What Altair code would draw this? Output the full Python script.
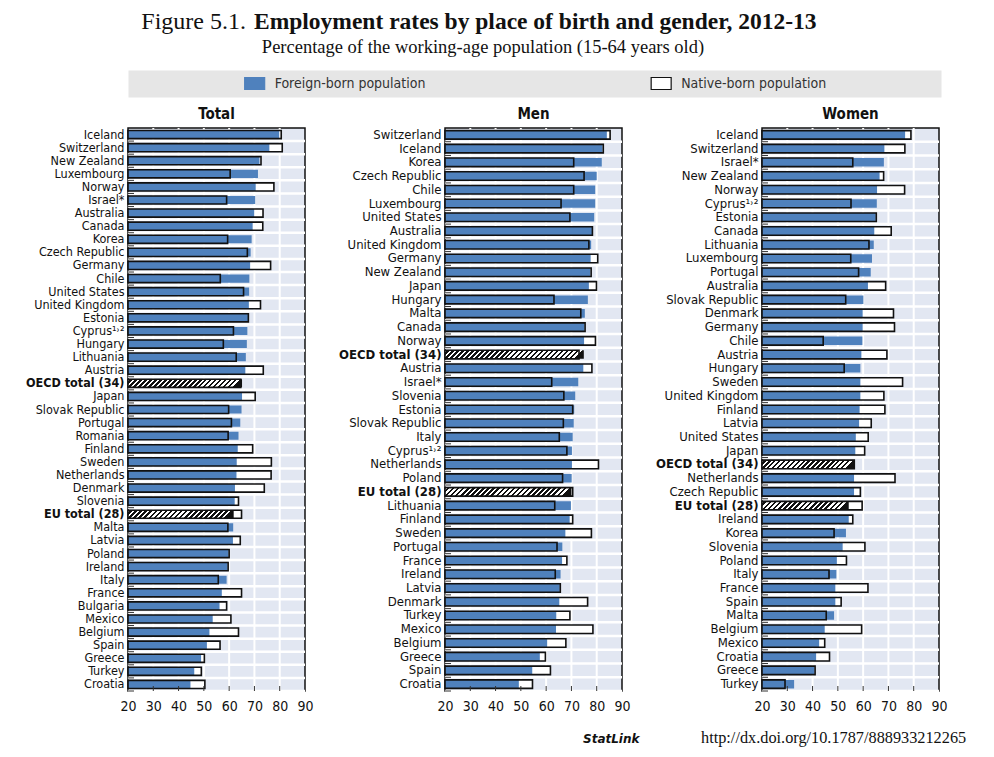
import altair as alt
import pandas as pd

# ---------------- data ----------------
countries_total = ["Iceland", "Switzerland", "New Zealand", "Luxembourg", "Norway", "Israel*", "Australia",
                   "Canada", "Korea", "Czech Republic", "Germany", "Chile", "United States", "United Kingdom",
                   "Estonia", "Cyprus¹˒²", "Hungary", "Lithuania", "Austria", "OECD total (34)", "Japan",
                   "Slovak Republic", "Portugal", "Romania", "Finland", "Sweden", "Netherlands", "Denmark",
                   "Slovenia", "EU total (28)", "Malta", "Latvia", "Poland", "Ireland", "Italy", "France",
                   "Bulgaria", "Mexico", "Belgium", "Spain", "Greece", "Turkey", "Croatia"]
foreign_total = [79.8, 75.9, 72.0, 71.4, 70.5, 70.3, 69.9, 69.3, 68.9, 68.5, 68.3, 68.0, 67.9, 67.8, 67.5,
                 67.2, 67.0, 66.6, 66.4, 65.1, 65.1, 64.9, 64.4, 63.7, 63.4, 63.0, 62.9, 62.3, 62.2, 61.8,
                 61.6, 61.5, 59.8, 59.4, 59.0, 57.1, 56.2, 53.5, 52.2, 51.2, 48.9, 46.2, 44.7]
native_total = [80.6, 81.0, 72.6, 60.4, 77.7, 59.0, 73.4, 73.3, 59.4, 67.2, 76.4, 56.5, 65.7, 72.4, 67.6,
                61.7, 57.7, 62.8, 73.5, 64.6, 70.3, 59.8, 60.9, 59.6, 69.3, 76.7, 76.6, 73.9, 63.7, 64.9,
                59.5, 64.4, 60.0, 59.6, 55.7, 64.9, 59.0, 60.7, 63.7, 56.4, 50.2, 49.0, 50.4]

countries_men = ["Switzerland", "Iceland", "Korea", "Czech Republic", "Chile", "Luxembourg", "United States",
                 "Australia", "United Kingdom", "Germany", "New Zealand", "Japan", "Hungary", "Malta", "Canada",
                 "Norway", "OECD total (34)", "Austria", "Israel*", "Slovenia", "Estonia", "Slovak Republic",
                 "Italy", "Cyprus¹˒²", "Netherlands", "Poland", "EU total (28)", "Lithuania", "Finland",
                 "Sweden", "Portugal", "France", "Ireland", "Latvia", "Denmark", "Turkey", "Mexico",
                 "Belgium", "Greece", "Spain", "Croatia"]
foreign_men = [84.0, 82.3, 82.0, 80.0, 79.4, 79.4, 79.0, 78.2, 77.8, 77.6, 77.5, 76.9, 76.5, 75.3, 75.2,
               75.0, 74.9, 74.7, 72.7, 71.5, 71.1, 70.9, 70.5, 70.2, 70.2, 70.1, 70.0, 69.8, 69.3, 67.6,
               66.4, 66.3, 65.7, 65.4, 65.2, 64.0, 63.9, 60.4, 57.5, 54.5, 49.2]
native_men = [85.3, 82.6, 70.9, 75.0, 70.9, 65.9, 69.4, 78.3, 76.9, 80.4, 77.8, 79.9, 63.1, 73.7, 75.4,
              79.5, 73.0, 78.1, 62.2, 67.0, 70.5, 66.8, 65.2, 68.2, 80.7, 66.5, 70.5, 63.4, 70.5, 77.9,
              64.3, 68.2, 63.6, 65.6, 76.4, 69.4, 78.5, 67.8, 59.7, 61.7, 54.6]

countries_women = ["Iceland", "Switzerland", "Israel*", "New Zealand", "Norway", "Cyprus¹˒²", "Estonia",
                   "Canada", "Lithuania", "Luxembourg", "Portugal", "Australia", "Slovak Republic", "Denmark",
                   "Germany", "Chile", "Austria", "Hungary", "Sweden", "United Kingdom", "Finland", "Latvia",
                   "United States", "Japan", "OECD total (34)", "Netherlands", "Czech Republic",
                   "EU total (28)", "Ireland", "Korea", "Slovenia", "Poland", "Italy", "France", "Spain",
                   "Malta", "Belgium", "Mexico", "Croatia", "Greece", "Turkey"]
foreign_women = [76.6, 68.4, 68.2, 66.5, 65.5, 65.4, 65.0, 64.4, 64.2, 63.5, 63.0, 61.9, 60.1, 59.8, 59.8,
                 59.7, 59.3, 58.9, 58.9, 58.9, 58.6, 58.4, 57.1, 56.9, 56.7, 56.4, 56.4, 54.3, 54.3, 53.2,
                 51.9, 49.6, 49.4, 49.0, 49.0, 48.5, 44.8, 42.6, 41.4, 40.8, 32.7]
native_women = [78.9, 76.5, 55.9, 68.1, 76.4, 55.2, 65.2, 71.1, 62.3, 55.1, 58.2, 68.9, 53.1, 72.0, 72.4,
                44.2, 69.4, 52.5, 75.6, 68.2, 68.6, 63.2, 62.0, 60.6, 56.5, 72.6, 58.9, 59.6, 55.9, 48.5,
                60.7, 53.4, 46.5, 61.9, 51.3, 45.4, 59.4, 44.8, 46.7, 41.0, 29.1]

panel_titles = ["Total", "Men", "Women"]
legend_labels = ["Foreign-born population", "Native-born population"]
x_tick_values = [20, 30, 40, 50, 60, 70, 80, 90]
grid_values = [30, 40, 50, 60, 70, 80]
title_lead = "Figure 5.1."
title_main = "Employment rates by place of birth and gender, 2012-13"
subtitle_text = "Percentage of the working-age population (15-64 years old)"
statlink_word = "StatLink"
statlink_url = "http://dx.doi.org/10.1787/888933212265"

# ---------------- style ----------------
BLUE = "#4f81bd"
PLOT_BG = "#e2e7f2"
INK = "#111111"
FONT = "Liberation Sans Narrow, DejaVu Sans Condensed, Arial Narrow, sans-serif"
SERIF = "Liberation Serif, DejaVu Serif, serif"
PW, PH = 177, 563
EXT = 118
BAND = 0.62
XMIN, XMAX = 20, 90
HW, HH = 813, 27


def hatch_fill(value, n_rows):
    bar_w = (value - XMIN) / (XMAX - XMIN) * PW
    bar_h = BAND * PH / n_rows
    n = max(4, round(bar_w / 5.0))
    stops = []
    for k in range(n):
        a = k / n
        b = (k + 0.5) / n
        c = (k + 1) / n
        stops += [alt.GradientStop(color="white", offset=round(a, 5)),
                  alt.GradientStop(color="white", offset=round(b, 5)),
                  alt.GradientStop(color=INK, offset=round(b, 5)),
                  alt.GradientStop(color=INK, offset=round(c, 5))]
    return alt.LinearGradient(gradient="linear", stops=stops, x1=0, y1=0, x2=1, y2=round(bar_h / bar_w, 4))


def panel(name, countries, foreign, native, label_size=13):
    n = len(countries)
    df = pd.DataFrame({"country": countries, "foreign": foreign, "native": native})
    df["is_total"] = df["country"].str.contains("total")
    xs = alt.Scale(domain=[XMIN, XMAX], nice=False, zero=False)
    ys = alt.Scale(domain=countries, paddingInner=0, paddingOuter=0)
    yaxis = alt.Axis(title=None, ticks=False, domain=False, grid=False, labelFont=FONT,
                     labelFontSize=label_size, labelColor=INK, labelPadding=4, labelLimit=EXT - 4,
                     minExtent=EXT, maxExtent=EXT,
                     labelFontWeight={"expr": "indexof(datum.label, 'total') >= 0 ? 'bold' : 'normal'"})
    xaxis = alt.Axis(title=None, values=x_tick_values, ticks=False, tickSize=0, domain=False, grid=False,
                     labelFont=FONT, labelFontSize=14, labelColor=INK, labelPadding=8, labelFlush=False)
    y = alt.Y("country:N", scale=ys, axis=yaxis, sort=None)
    y_edge = alt.Y("country:N", scale=ys, axis=yaxis, sort=None, bandPosition=1)
    bar_h = {"band": BAND}

    base = alt.Chart(df)
    gdf = pd.DataFrame({"v": grid_values})

    vgrid = alt.Chart(gdf).mark_rule(color="white", strokeWidth=2).encode(
        x=alt.X("v:Q", scale=xs, axis=xaxis))
    rows = base.mark_rule(color="white", strokeWidth=2.5).encode(
        y=y_edge, x=alt.value(0), x2=alt.value(PW))
    lticks = base.mark_rule(color="#333333", strokeWidth=1).encode(
        y=y_edge, x=alt.value(0), x2=alt.value(6))
    bticks = alt.Chart(gdf).mark_rule(color="#333333", strokeWidth=1).encode(
        x=alt.X("v:Q", scale=xs, axis=xaxis), y=alt.value(PH - 5), y2=alt.value(PH))
    native_fill = base.mark_bar(fill="white", height=bar_h).encode(
        x=alt.X("native:Q", scale=xs, axis=xaxis), x2=alt.datum(XMIN), y=y)
    foreign_bar = base.transform_filter("!datum.is_total").mark_bar(fill=BLUE, height=bar_h).encode(
        x=alt.X("foreign:Q", scale=xs, axis=xaxis), x2=alt.datum(XMIN), y=y)
    hatched = []
    for c, f in zip(countries, foreign):
        if "total" in c:
            hatched.append(
                base.transform_filter(alt.FieldEqualPredicate(field="country", equal=c))
                .mark_bar(fill=hatch_fill(f, n), height=bar_h)
                .encode(x=alt.X("foreign:Q", scale=xs, axis=xaxis), x2=alt.datum(XMIN), y=y))
    outline = base.mark_bar(fillOpacity=0, stroke=INK, strokeWidth=1.6, height=bar_h).encode(
        x=alt.X("native:Q", scale=xs, axis=xaxis), x2=alt.datum(XMIN), y=y)

    layers = [vgrid, rows, native_fill, foreign_bar] + hatched + [outline, bticks, lticks]
    return alt.layer(*layers).properties(
        width=PW, height=PH,
        title=alt.TitleParams(name, font=FONT, fontSize=15, fontWeight="bold", color=INK,
                              anchor="middle", frame="group", offset=5),
        view=alt.ViewBackground(fill=PLOT_BG, stroke=INK, strokeWidth=1.5),
    )


def spacer_axis_layer(df, field):
    # invisible layer whose empty y axis reserves the same left extent as the panels
    return alt.Chart(df).mark_point(opacity=0).encode(
        y=alt.Y(field + ":N", axis=alt.Axis(labels=False, ticks=False, domain=False, grid=False, title=None,
                                            minExtent=EXT, maxExtent=EXT)))


# ---------------- header (title + legend band) ----------------
leg_df = pd.DataFrame({"label": legend_labels, "fill": [BLUE, "white"], "stroke": [BLUE, INK]})
lx = alt.X("label:N", scale=alt.Scale(type="point", domain=legend_labels, paddingOuter=0.4784, align=0.3116),
           axis=None)
leg_base = alt.Chart(leg_df)
RECT_PATH = "M-1,-0.6L1,-0.6L1,0.6L-1,0.6Z"
symbols = leg_base.mark_point(shape=RECT_PATH, size=400, filled=True, strokeWidth=1.2, opacity=1).encode(
    x=lx, y=alt.value(HH / 2), fill=alt.Fill("fill:N", scale=None), stroke=alt.Stroke("stroke:N", scale=None))
leg_text = leg_base.mark_text(align="left", dx=20, baseline="middle", font=FONT, fontSize=14,
                              color="#333333").encode(x=lx, y=alt.value(HH / 2), text="label:N")
t1 = alt.Chart(pd.DataFrame({"t": [title_lead]})).mark_text(
    font=SERIF, fontSize=24, align="right", baseline="alphabetic", color=INK).encode(
    text="t:N", x=alt.value(118), y=alt.value(-41))
t2 = alt.Chart(pd.DataFrame({"t": [title_main]})).mark_text(
    font=SERIF, fontSize=23.5, fontWeight="bold", align="left", baseline="alphabetic", color=INK).encode(
    text="t:N", x=alt.value(126), y=alt.value(-41))
t3 = alt.Chart(pd.DataFrame({"t": [subtitle_text]})).mark_text(
    font=SERIF, fontSize=18.5, align="center", baseline="alphabetic", color=INK).encode(
    text="t:N", x=alt.value(355), y=alt.value(-17))

header = alt.layer(spacer_axis_layer(leg_df, "label"), symbols, leg_text, t1, t2, t3).properties(
    width=HW, height=HH, view=alt.ViewBackground(fill="#e6e6e6", stroke="transparent"))

# ---------------- footer (StatLink) ----------------
foot_df = pd.DataFrame({"t": [statlink_word, statlink_url]})
f1 = alt.Chart(pd.DataFrame({"t": [statlink_word]})).mark_text(
    font="DejaVu Sans", fontSize=12, fontWeight="bold", fontStyle="italic", align="left",
    baseline="alphabetic", color=INK).encode(text="t:N", x=alt.value(455), y=alt.value(20))
f2 = alt.Chart(pd.DataFrame({"t": [statlink_url]})).mark_text(
    font=SERIF, fontSize=16.3, align="left", baseline="alphabetic", color=INK).encode(
    text="t:N", x=alt.value(573), y=alt.value(20))
footer = alt.layer(spacer_axis_layer(foot_df, "t"), f1, f2).properties(
    width=HW, height=24, view=alt.ViewBackground(fill="transparent", stroke="transparent"))

panels = alt.hconcat(
    panel(panel_titles[0], countries_total, foreign_total, native_total, label_size=12.5),
    panel(panel_titles[1], countries_men, foreign_men, native_men),
    panel(panel_titles[2], countries_women, foreign_women, native_women),
    spacing=12,
)

chart = alt.vconcat(header, panels, footer, spacing=8).properties(
    padding={"left": 1, "top": 1, "right": 5, "bottom": 0}
).configure(background="white")

chart.save("out.html", embed_options={"renderer": "svg", "actions": False})
